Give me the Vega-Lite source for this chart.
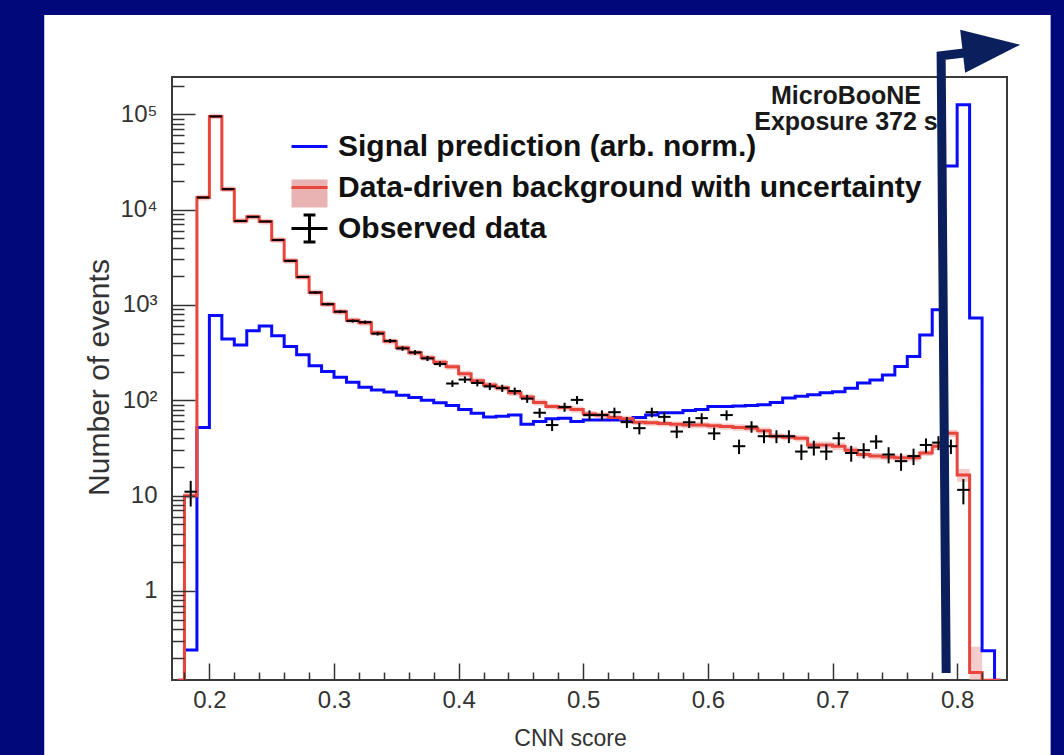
{
"$schema": "https://vega.github.io/schema/vega-lite/v6.json",
"width": 835, "height": 603,
"autosize": "none",
"padding": {"left": 172, "top": 77, "right": 57, "bottom": 75},
"background": "#00087a",
"config": {"view": {"stroke": null}, "font": "Liberation Sans"},
"datasets": {
"hist": [
{"x":0.175,"s":"sig","n":0.116},{"x":0.185,"s":"sig","n":0.24},{"x":0.195,"s":"sig","n":52},{"x":0.205,"s":"sig","n":775},{"x":0.215,"s":"sig","n":440},{"x":0.225,"s":"sig","n":380},{"x":0.235,"s":"sig","n":535},{"x":0.245,"s":"sig","n":600},{"x":0.255,"s":"sig","n":475},{"x":0.265,"s":"sig","n":366},{"x":0.275,"s":"sig","n":300},{"x":0.285,"s":"sig","n":230},{"x":0.295,"s":"sig","n":200},{"x":0.305,"s":"sig","n":175},{"x":0.315,"s":"sig","n":155},{"x":0.325,"s":"sig","n":137},{"x":0.335,"s":"sig","n":128},{"x":0.345,"s":"sig","n":122},{"x":0.355,"s":"sig","n":113},{"x":0.365,"s":"sig","n":107},{"x":0.375,"s":"sig","n":100},{"x":0.385,"s":"sig","n":94},{"x":0.395,"s":"sig","n":88},{"x":0.405,"s":"sig","n":80},{"x":0.415,"s":"sig","n":73},{"x":0.425,"s":"sig","n":67},{"x":0.435,"s":"sig","n":68},{"x":0.445,"s":"sig","n":70},{"x":0.455,"s":"sig","n":56},{"x":0.465,"s":"sig","n":60},{"x":0.475,"s":"sig","n":64},{"x":0.485,"s":"sig","n":65},{"x":0.495,"s":"sig","n":60},{"x":0.505,"s":"sig","n":62},{"x":0.515,"s":"sig","n":62},{"x":0.525,"s":"sig","n":62},{"x":0.535,"s":"sig","n":62},{"x":0.545,"s":"sig","n":66},{"x":0.555,"s":"sig","n":70},{"x":0.565,"s":"sig","n":74},{"x":0.575,"s":"sig","n":74},{"x":0.585,"s":"sig","n":78},{"x":0.595,"s":"sig","n":80},{"x":0.605,"s":"sig","n":86},{"x":0.615,"s":"sig","n":86},{"x":0.625,"s":"sig","n":87},{"x":0.635,"s":"sig","n":88},{"x":0.645,"s":"sig","n":90},{"x":0.655,"s":"sig","n":95},{"x":0.665,"s":"sig","n":106},{"x":0.675,"s":"sig","n":110},{"x":0.685,"s":"sig","n":114},{"x":0.695,"s":"sig","n":120},{"x":0.705,"s":"sig","n":123},{"x":0.715,"s":"sig","n":134},{"x":0.725,"s":"sig","n":152},{"x":0.735,"s":"sig","n":163},{"x":0.745,"s":"sig","n":184},{"x":0.755,"s":"sig","n":226},{"x":0.765,"s":"sig","n":288},{"x":0.775,"s":"sig","n":485},{"x":0.785,"s":"sig","n":890},{"x":0.795,"s":"sig","n":28700},{"x":0.805,"s":"sig","n":126000},{"x":0.815,"s":"sig","n":730},{"x":0.825,"s":"sig","n":0.236},{"x":0.835,"s":"sig","n":0.116},
{"x":0.175,"s":"bkg","n":0.116,"lo":0.116,"hi":0.116},{"x":0.185,"s":"bkg","n":10,"lo":9.3,"hi":10.7},{"x":0.195,"s":"bkg","n":13400,"lo":12500,"hi":14300},{"x":0.205,"s":"bkg","n":95000,"lo":89000,"hi":101000},{"x":0.215,"s":"bkg","n":16400,"lo":15300,"hi":17500},{"x":0.225,"s":"bkg","n":7600,"lo":7100,"hi":8100},{"x":0.235,"s":"bkg","n":8400,"lo":7850,"hi":8950},{"x":0.245,"s":"bkg","n":7500,"lo":7000,"hi":8000},{"x":0.255,"s":"bkg","n":4800,"lo":4480,"hi":5120},{"x":0.265,"s":"bkg","n":2900,"lo":2700,"hi":3100},{"x":0.275,"s":"bkg","n":1970,"lo":1840,"hi":2100},{"x":0.285,"s":"bkg","n":1350,"lo":1260,"hi":1440},{"x":0.295,"s":"bkg","n":1020,"lo":950,"hi":1090},{"x":0.305,"s":"bkg","n":850,"lo":790,"hi":910},{"x":0.315,"s":"bkg","n":690,"lo":640,"hi":740},{"x":0.325,"s":"bkg","n":650,"lo":605,"hi":695},{"x":0.335,"s":"bkg","n":510,"lo":475,"hi":545},{"x":0.345,"s":"bkg","n":415,"lo":385,"hi":445},{"x":0.355,"s":"bkg","n":355,"lo":330,"hi":380},{"x":0.365,"s":"bkg","n":315,"lo":293,"hi":337},{"x":0.375,"s":"bkg","n":280,"lo":260,"hi":300},{"x":0.385,"s":"bkg","n":250,"lo":232,"hi":268},{"x":0.395,"s":"bkg","n":225,"lo":209,"hi":241},{"x":0.405,"s":"bkg","n":190,"lo":176,"hi":204},{"x":0.415,"s":"bkg","n":160,"lo":148,"hi":172},{"x":0.425,"s":"bkg","n":145,"lo":134,"hi":156},{"x":0.435,"s":"bkg","n":135,"lo":125,"hi":145},{"x":0.445,"s":"bkg","n":120,"lo":111,"hi":129},{"x":0.455,"s":"bkg","n":108,"lo":100,"hi":116},{"x":0.465,"s":"bkg","n":95,"lo":88,"hi":102},{"x":0.475,"s":"bkg","n":86,"lo":80,"hi":92},{"x":0.485,"s":"bkg","n":84,"lo":78,"hi":90},{"x":0.495,"s":"bkg","n":80,"lo":74,"hi":86},{"x":0.505,"s":"bkg","n":72,"lo":67,"hi":77},{"x":0.515,"s":"bkg","n":70,"lo":65,"hi":75},{"x":0.525,"s":"bkg","n":66,"lo":61,"hi":71},{"x":0.535,"s":"bkg","n":64,"lo":59,"hi":69},{"x":0.545,"s":"bkg","n":59,"lo":55,"hi":63},{"x":0.555,"s":"bkg","n":58,"lo":54,"hi":62},{"x":0.565,"s":"bkg","n":57,"lo":53,"hi":61},{"x":0.575,"s":"bkg","n":56,"lo":52,"hi":60},{"x":0.585,"s":"bkg","n":55,"lo":51,"hi":59},{"x":0.595,"s":"bkg","n":55,"lo":51,"hi":59},{"x":0.605,"s":"bkg","n":54,"lo":50,"hi":58},{"x":0.615,"s":"bkg","n":53,"lo":49,"hi":57},{"x":0.625,"s":"bkg","n":52,"lo":48,"hi":56},{"x":0.635,"s":"bkg","n":51,"lo":47,"hi":55},{"x":0.645,"s":"bkg","n":48,"lo":44,"hi":52},{"x":0.655,"s":"bkg","n":42,"lo":39,"hi":45},{"x":0.665,"s":"bkg","n":41,"lo":38,"hi":44},{"x":0.675,"s":"bkg","n":40,"lo":37,"hi":43},{"x":0.685,"s":"bkg","n":34,"lo":31,"hi":37},{"x":0.695,"s":"bkg","n":34,"lo":31,"hi":37},{"x":0.705,"s":"bkg","n":33,"lo":30,"hi":36},{"x":0.715,"s":"bkg","n":30,"lo":27.5,"hi":32.5},{"x":0.725,"s":"bkg","n":27,"lo":25,"hi":29},{"x":0.735,"s":"bkg","n":26,"lo":24,"hi":28},{"x":0.745,"s":"bkg","n":25.5,"lo":23.5,"hi":27.5},{"x":0.755,"s":"bkg","n":25,"lo":23,"hi":27},{"x":0.765,"s":"bkg","n":25,"lo":23,"hi":27},{"x":0.775,"s":"bkg","n":28,"lo":26,"hi":30},{"x":0.785,"s":"bkg","n":33,"lo":30,"hi":36},{"x":0.795,"s":"bkg","n":45,"lo":41,"hi":49},{"x":0.805,"s":"bkg","n":16.5,"lo":14,"hi":19},{"x":0.815,"s":"bkg","n":0.14,"lo":0.116,"hi":0.26},{"x":0.825,"s":"bkg","n":0.116,"lo":0.116,"hi":0.116},{"x":0.835,"s":"bkg","n":0.116,"lo":0.116,"hi":0.116}
],
"obs": [
{"x":0.185,"n":11,"lo":7.7,"hi":14.3},{"x":0.195,"n":13400,"lo":13280,"hi":13520},{"x":0.205,"n":95000,"lo":94690,"hi":95310},{"x":0.215,"n":16400,"lo":16270,"hi":16530},{"x":0.225,"n":7600,"lo":7510,"hi":7690},{"x":0.235,"n":8400,"lo":8310,"hi":8490},{"x":0.245,"n":7500,"lo":7410,"hi":7590},{"x":0.255,"n":4800,"lo":4730,"hi":4870},{"x":0.265,"n":2900,"lo":2846,"hi":2954},{"x":0.275,"n":1970,"lo":1926,"hi":2014},{"x":0.285,"n":1350,"lo":1313,"hi":1387},{"x":0.295,"n":1020,"lo":988,"hi":1052},{"x":0.305,"n":850,"lo":821,"hi":879},{"x":0.315,"n":680,"lo":654,"hi":706},{"x":0.325,"n":660,"lo":634,"hi":686},{"x":0.335,"n":500,"lo":478,"hi":522},{"x":0.345,"n":420,"lo":400,"hi":440},{"x":0.355,"n":350,"lo":331,"hi":369},{"x":0.365,"n":318,"lo":300,"hi":336},{"x":0.375,"n":275,"lo":258,"hi":292},{"x":0.385,"n":240,"lo":224.5,"hi":255.5},{"x":0.395,"n":150,"lo":138,"hi":162},{"x":0.405,"n":165,"lo":152,"hi":178},{"x":0.415,"n":152,"lo":140,"hi":164},{"x":0.425,"n":140,"lo":128,"hi":152},{"x":0.435,"n":134,"lo":122.4,"hi":145.6},{"x":0.445,"n":125,"lo":114,"hi":136},{"x":0.455,"n":104,"lo":94,"hi":114},{"x":0.465,"n":74,"lo":65.4,"hi":82.6},{"x":0.475,"n":55,"lo":47.6,"hi":62.4},{"x":0.485,"n":85,"lo":75.8,"hi":94.2},{"x":0.495,"n":101,"lo":91,"hi":111},{"x":0.505,"n":70,"lo":61.6,"hi":78.4},{"x":0.515,"n":70,"lo":61.6,"hi":78.4},{"x":0.525,"n":75,"lo":66.3,"hi":83.7},{"x":0.535,"n":59,"lo":51.3,"hi":66.7},{"x":0.545,"n":51,"lo":43.9,"hi":58.1},{"x":0.555,"n":75,"lo":66.3,"hi":83.7},{"x":0.565,"n":67,"lo":58.8,"hi":75.2},{"x":0.575,"n":47,"lo":40.1,"hi":53.9},{"x":0.585,"n":59,"lo":51.3,"hi":66.7},{"x":0.595,"n":65,"lo":56.9,"hi":73.1},{"x":0.605,"n":45,"lo":38.3,"hi":51.7},{"x":0.615,"n":70,"lo":61.6,"hi":78.4},{"x":0.625,"n":33,"lo":27.3,"hi":38.7},{"x":0.635,"n":53,"lo":45.7,"hi":60.3},{"x":0.645,"n":42,"lo":35.5,"hi":48.5},{"x":0.655,"n":42,"lo":35.5,"hi":48.5},{"x":0.665,"n":42,"lo":35.5,"hi":48.5},{"x":0.675,"n":29,"lo":23.6,"hi":34.4},{"x":0.685,"n":32,"lo":26.3,"hi":37.7},{"x":0.695,"n":29,"lo":23.6,"hi":34.4},{"x":0.705,"n":40,"lo":33.7,"hi":46.3},{"x":0.715,"n":28,"lo":22.7,"hi":33.3},{"x":0.725,"n":30,"lo":24.5,"hi":35.5},{"x":0.735,"n":37,"lo":30.9,"hi":43.1},{"x":0.745,"n":27,"lo":21.8,"hi":32.2},{"x":0.755,"n":23,"lo":18.2,"hi":27.8},{"x":0.765,"n":26,"lo":20.9,"hi":31.1},{"x":0.775,"n":34,"lo":28.2,"hi":39.8},{"x":0.785,"n":36,"lo":30,"hi":42},{"x":0.795,"n":33,"lo":27.3,"hi":38.7},{"x":0.805,"n":11.5,"lo":8.1,"hi":14.9}
],
"arrow": [{"x":0.7912,"y":0.138},{"x":0.78715,"y":411000},{"x":0.8072,"y":442000}],
"leg": [
{"lab":"Signal prediction (arb. norm.)","lab2":"a1"},
{"lab":"Data-driven background with uncertainty","lab2":"a2"},
{"lab":"Observed data","lab2":"a3"}
]
},
"layer": [
{"data": {"values": [{}]},
 "mark": {"type": "rect", "fill": "white", "clip": false},
 "encoding": {
  "x": {"datum": 0.0675, "type": "quantitative", "scale": {"domain": [0.17, 0.84], "nice": false, "zero": false}, "axis": null},
  "x2": {"datum": 0.875},
  "y": {"datum": 1100000, "type": "quantitative", "scale": {"type": "log", "domain": [0.1165, 246000], "nice": false}, "axis": null},
  "y2": {"datum": 0.019}}},
{"data": {"values": [{}]},
 "mark": {"type": "rect", "fill": "white", "fillOpacity": 0, "stroke": "#3a3a3a", "strokeWidth": 2, "clip": false},
 "encoding": {
  "x": {"datum": 0.17, "type": "quantitative", "scale": {"domain": [0.17, 0.84], "nice": false, "zero": false}, "axis": null},
  "x2": {"datum": 0.84},
  "y": {"datum": 246000, "type": "quantitative", "scale": {"type": "log", "domain": [0.1165, 246000], "nice": false}, "axis": null},
  "y2": {"datum": 0.1165}}},
{"data": {"name": "hist"},
 "transform": [{"filter": "datum.s == 'bkg'"}],
 "mark": {"type": "area", "interpolate": "step", "color": "#eeaaaa", "opacity": 0.6, "clip": true},
 "encoding": {
  "x": {"field": "x", "type": "quantitative", "scale": {"domain": [0.17, 0.84], "nice": false, "zero": false}, "axis": null},
  "y": {"field": "lo", "type": "quantitative", "scale": {"type": "log", "domain": [0.1165, 246000], "nice": false}, "axis": null},
  "y2": {"field": "hi"}}},
{"data": {"name": "hist"},
 "transform": [{"filter": "datum.s == 'sig'"}],
 "mark": {"type": "line", "interpolate": "step", "color": "#0a0aff", "strokeWidth": 3, "clip": true},
 "encoding": {
  "x": {"field": "x", "type": "quantitative", "scale": {"domain": [0.17, 0.84], "nice": false, "zero": false},
   "axis": {"orient": "bottom", "values": [0.2, 0.3, 0.4, 0.5, 0.6, 0.7, 0.8], "format": ".1f", "tickSize": -17, "tickWidth": 1.5, "tickColor": "#333333", "domain": false, "grid": false, "labelPadding": 25, "labelFontSize": 24, "labelColor": "#333333", "labelFlush": false, "labelOverlap": false, "title": "CNN score", "titleFontSize": 23, "titleFontWeight": "normal", "titleColor": "#333333", "titleX": 398, "titleY": 65, "titleAnchor": null, "titleAlign": "center", "titleBaseline": "alphabetic", "zindex": 1}},
  "y": {"field": "n", "type": "quantitative", "scale": {"type": "log", "domain": [0.1165, 246000], "nice": false},
   "axis": {"orient": "left", "values": [1, 10, 100, 1000, 10000, 100000], "labelExpr": "datum.value == 1 ? '1' : datum.value == 10 ? '10' : datum.value == 100 ? '10²' : datum.value == 1000 ? '10³' : datum.value == 10000 ? '10⁴' : '10⁵'", "tickSize": -23, "tickWidth": 1.5, "tickColor": "#333333", "domain": false, "grid": false, "labelPadding": 38, "labelFontSize": 24, "labelColor": "#333333", "labelFlush": false, "labelOverlap": false, "labelBaseline": "middle", "title": "Number of events", "titleFontSize": 30, "titleFontWeight": "normal", "titleColor": "#333333", "titleAngle": -90, "titleX": -64, "titleY": 300, "titleAnchor": null, "titleAlign": "center", "titleBaseline": "alphabetic", "zindex": 1}}}},
{"data": {"name": "hist"},
 "transform": [{"filter": "datum.s == 'bkg'"}],
 "mark": {"type": "line", "interpolate": "step", "color": "#e8453c", "strokeWidth": 3, "clip": true},
 "encoding": {
  "x": {"field": "x", "type": "quantitative", "scale": {"domain": [0.17, 0.84], "nice": false, "zero": false},
   "axis": {"orient": "bottom", "values": [0.18, 0.22, 0.24, 0.26, 0.28, 0.32, 0.34, 0.36, 0.38, 0.42, 0.44, 0.46, 0.48, 0.52, 0.54, 0.56, 0.58, 0.62, 0.64, 0.66, 0.68, 0.72, 0.74, 0.76, 0.78, 0.82], "labels": false, "tickSize": -8, "tickWidth": 1.5, "tickColor": "#333333", "domain": false, "grid": false, "title": null, "zindex": 1}},
  "y": {"field": "n", "type": "quantitative", "scale": {"type": "log", "domain": [0.1165, 246000], "nice": false},
   "axis": {"orient": "left", "values": [0.2, 0.3, 0.4, 0.5, 0.6, 0.7, 0.8, 0.9, 2, 3, 4, 5, 6, 7, 8, 9, 20, 30, 40, 50, 60, 70, 80, 90, 200, 300, 400, 500, 600, 700, 800, 900, 2000, 3000, 4000, 5000, 6000, 7000, 8000, 9000, 20000, 30000, 40000, 50000, 60000, 70000, 80000, 90000, 200000], "labels": false, "tickSize": -12, "tickWidth": 1.5, "tickColor": "#333333", "domain": false, "grid": false, "title": null, "zindex": 1}}}},
{"data": {"name": "obs"},
 "mark": {"type": "rule", "color": "#000000", "strokeWidth": 2, "clip": true},
 "encoding": {
  "x": {"field": "x", "type": "quantitative", "scale": {"domain": [0.17, 0.84], "nice": false, "zero": false}, "axis": null},
  "y": {"field": "lo", "type": "quantitative", "scale": {"type": "log", "domain": [0.1165, 246000], "nice": false}, "axis": null},
  "y2": {"field": "hi"}}},
{"data": {"name": "obs"},
 "mark": {"type": "tick", "orient": "horizontal", "color": "#000000", "size": 12.5, "thickness": 2, "opacity": 1, "clip": true},
 "encoding": {
  "x": {"field": "x", "type": "quantitative", "scale": {"domain": [0.17, 0.84], "nice": false, "zero": false}, "axis": null},
  "y": {"field": "n", "type": "quantitative", "scale": {"type": "log", "domain": [0.1165, 246000], "nice": false}, "axis": null}}},
{"data": {"values": [{}]},
 "mark": {"type": "text", "text": ["MicroBooNE", "Exposure 372 s"], "align": "center", "baseline": "alphabetic", "lineHeight": 26, "fontSize": 25, "fontWeight": "bold", "font": "Liberation Sans", "color": "#1a1a1a", "clip": false},
 "encoding": {
  "x": {"datum": 0.7108, "type": "quantitative", "scale": {"domain": [0.17, 0.84], "nice": false, "zero": false}, "axis": null},
  "y": {"datum": 129000, "type": "quantitative", "scale": {"type": "log", "domain": [0.1165, 246000], "nice": false}, "axis": null}}},
{"data": {"name": "arrow"},
 "mark": {"type": "line", "color": "#0b1f5c", "strokeWidth": 9, "strokeJoin": "miter", "strokeCap": "butt", "clip": false},
 "encoding": {
  "x": {"field": "x", "type": "quantitative", "scale": {"domain": [0.17, 0.84], "nice": false, "zero": false}, "axis": null},
  "y": {"field": "y", "type": "quantitative", "scale": {"type": "log", "domain": [0.1165, 246000], "nice": false}, "axis": null},
  "order": {"value": null}}},
{"data": {"values": [{}]},
 "mark": {"type": "point", "shape": "M-0.083,-0.717L1.917,-0.217L0.083,0.717Z", "size": 3600, "filled": true, "color": "#0b1f5c", "opacity": 1, "clip": false},
 "encoding": {
  "x": {"datum": 0.80442, "type": "quantitative", "scale": {"domain": [0.17, 0.84], "nice": false, "zero": false}, "axis": null},
  "y": {"datum": 458000, "type": "quantitative", "scale": {"type": "log", "domain": [0.1165, 246000], "nice": false}, "axis": null}}},
{"data": {"name": "leg"},
 "mark": {"type": "point", "filled": false, "strokeWidth": 3, "clip": true},
 "encoding": {
  "x": {"datum": 0.5, "type": "quantitative", "scale": {"domain": [0.17, 0.84], "nice": false, "zero": false}, "axis": null},
  "y": {"datum": 0.00001, "type": "quantitative", "scale": {"type": "log", "domain": [0.1165, 246000], "nice": false}, "axis": null},
  "stroke": {"field": "lab", "type": "nominal",
   "scale": {"domain": ["Signal prediction (arb. norm.)", "Data-driven background with uncertainty", "Observed data"], "range": ["#0a0aff", "#e8453c", "#000000"]},
   "legend": {"orient": "none", "legendX": 118, "legendY": 50, "title": null, "labelFontSize": 30, "labelFont": "Liberation Sans", "labelFontWeight": "bold", "labelColor": "#111111", "labelLimit": 0, "symbolSize": 1296, "symbolStrokeWidth": 3, "symbolOpacity": 1, "rowPadding": 6, "labelOffset": 9, "padding": 0, "zindex": 2}},
  "shape": {"field": "lab", "type": "nominal",
   "scale": {"domain": ["Signal prediction (arb. norm.)", "Data-driven background with uncertainty", "Observed data"], "range": ["M-1,0H1", "M-1,0H1", "M-1,0H1M0,-0.75V0.75M-0.33,-0.75H0.33M-0.33,0.75H0.33"]},
   "legend": {"orient": "none", "legendX": 118, "legendY": 50, "title": null, "labelFontSize": 30, "labelFont": "Liberation Sans", "labelFontWeight": "bold", "labelColor": "#111111", "labelLimit": 0, "symbolSize": 1296, "symbolStrokeWidth": 3, "symbolOpacity": 1, "rowPadding": 6, "labelOffset": 9, "padding": 0, "zindex": 2}}}},
{"data": {"name": "leg"},
 "mark": {"type": "point", "filled": true, "clip": true},
 "encoding": {
  "x": {"datum": 0.5, "type": "quantitative", "scale": {"domain": [0.17, 0.84], "nice": false, "zero": false}, "axis": null},
  "y": {"datum": 0.00001, "type": "quantitative", "scale": {"type": "log", "domain": [0.1165, 246000], "nice": false}, "axis": null},
  "fill": {"field": "lab2", "type": "nominal",
   "scale": {"domain": ["a1", "a2", "a3"], "range": ["transparent", "#e9b3b3", "transparent"]},
   "legend": {"orient": "none", "legendX": 118, "legendY": 50, "title": null, "labelFontSize": 30, "labelFont": "Liberation Sans", "labelFontWeight": "bold", "labelColor": "transparent", "labelExpr": "''", "symbolType": "M-1,-0.78H1V0.78H-1Z", "symbolSize": 1296, "symbolStrokeWidth": 3, "symbolStrokeColor": "transparent", "symbolOpacity": 1, "rowPadding": 6, "labelOffset": 9, "padding": 0, "zindex": 1}}}}
],
"resolve": {"axis": {"x": "independent", "y": "independent"}}
}
